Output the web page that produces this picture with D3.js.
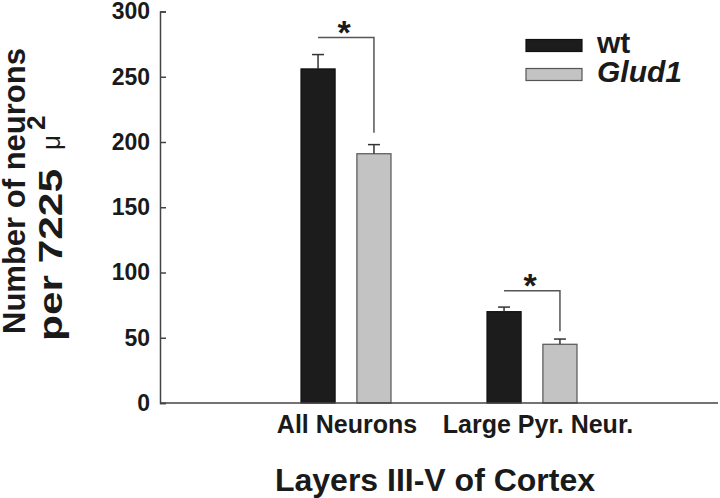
<!DOCTYPE html>
<html>
<head>
<meta charset="utf-8">
<script src="https://cdn.jsdelivr.net/npm/d3@7"></script>
<style>
  body { margin: 0; background: #fff; }
  text { font-family: Arial, "Liberation Sans", Helvetica, sans-serif; fill: #1a1a1a; }
</style>
</head>
<body>
<svg id="chart" width="720" height="498"></svg>
<script>
// categories on the x axis
var categories = ["All Neurons", "Large Pyr. Neur."]
// series names
var series = ["wt", "Glud1"]
// mean values per category, one array per series
var wtValues = [256, 70]
var glud1Values = [191, 45]
// upper error bars (sem)
var wtErrors = [11, 3.5]
var glud1Errors = [7, 4]
// significance brackets: bracket level and where the right leg stops
var sigLevel = [280, 86]
var sigDrop = [207, 55]
// y ticks
var yTicks = [0, 50, 100, 150, 200, 250, 300]

var svg = d3.select("#chart")

var colors = { wt: "#1c1c1c", Glud1: "#c3c3c3" }
var strokes = { wt: "#111", Glud1: "#555" }

// category positions: 1 and 2 on a 0..3 axis
var x = d3.scaleLinear().domain([0, 3]).range([160, 718])
var inner = d3.scaleBand().domain(series).range([-45, 45]).paddingInner(0.39)
var y = d3.scaleLinear().domain([0, 300]).range([403, 11.5])

// rows of data built from the arrays
var rows = []
categories.forEach(function (c, i) {
  rows.push({ cat: i, s: "wt", v: wtValues[i], e: wtErrors[i] })
  rows.push({ cat: i, s: "Glud1", v: glud1Values[i], e: glud1Errors[i] })
})

// y axis, ticks point inward
var yAxis = d3.axisLeft(y).tickValues(yTicks).tickSize(-6).tickPadding(10)
var gy = svg.append("g").attr("transform", "translate(" + x(0) + ",0)").call(yAxis)
gy.select(".domain").attr("stroke", "#444").attr("stroke-width", 1.5)
gy.selectAll(".tick line").attr("stroke", "#444").attr("stroke-width", 1.5)
gy.selectAll(".tick text")
  .attr("font-family", "Arial, 'Liberation Sans', sans-serif")
  .attr("font-size", 23).attr("font-weight", "bold").attr("fill", "#1a1a1a")

// bars
svg.append("g").selectAll("rect").data(rows).join("rect")
  .attr("x", d => x(d.cat + 1) + inner(d.s))
  .attr("y", d => y(d.v))
  .attr("width", inner.bandwidth())
  .attr("height", d => y(0) - y(d.v))
  .attr("fill", d => colors[d.s])
  .attr("stroke", d => strokes[d.s])
  .attr("stroke-width", 1.2)

// error bars (upper only)
var eb = svg.append("g").attr("stroke", "#333").attr("stroke-width", 1.5)
rows.forEach(function (d) {
  var cx = x(d.cat + 1) + inner(d.s) + inner.bandwidth() / 2
  eb.append("line").attr("x1", cx).attr("x2", cx).attr("y1", y(d.v)).attr("y2", y(d.v + d.e))
  eb.append("line").attr("x1", cx - 6).attr("x2", cx + 6).attr("y1", y(d.v + d.e)).attr("y2", y(d.v + d.e))
})

// x axis baseline
svg.append("line")
  .attr("x1", x(0)).attr("x2", x(3)).attr("y1", y(0)).attr("y2", y(0))
  .attr("stroke", "#444").attr("stroke-width", 1.5)

// significance brackets
categories.forEach(function (c, i) {
  var x1 = x(i + 1) + inner("wt") + inner.bandwidth() / 2
  var x2 = x(i + 1) + inner("Glud1") + inner.bandwidth() / 2
  svg.append("path")
    .attr("d", "M" + x1 + "," + y(sigLevel[i]) + "H" + x2 + "V" + y(sigDrop[i]))
    .attr("fill", "none").attr("stroke", "#555").attr("stroke-width", 1.5)
  svg.append("text")
    .attr("x", (x1 + x2) / 2 - 2).attr("y", y(sigLevel[i]) + 6)
    .attr("text-anchor", "middle").attr("font-size", 34).attr("font-weight", "bold")
    .text("*")
})

// category labels (second one sits a bit right of its group)
var labelShift = [1, 6]
svg.append("g").selectAll("text").data(categories).join("text")
  .attr("x", (d, i) => x(i + 1) + labelShift[i])
  .attr("y", 433)
  .attr("text-anchor", "middle")
  .attr("font-size", 25).attr("font-weight", "bold")
  .text(d => d)

// x title
svg.append("text")
  .attr("x", 435).attr("y", 491)
  .attr("text-anchor", "middle")
  .attr("font-size", 32).attr("font-weight", "bold")
  .text("Layers III-V of Cortex")

// y title, two lines (rotated, so x here runs up the page)
var yt = svg.append("g").attr("transform", "rotate(-90)")
yt.append("text")
  .attr("x", -191).attr("y", 25)
  .attr("text-anchor", "middle")
  .attr("font-size", 31).attr("font-weight", "bold")
  .text("Number of neurons")
yt.append("text")
  .attr("x", -341).attr("y", 62)
  .attr("font-size", 33).attr("font-weight", "bold")
  .attr("textLength", 172).attr("lengthAdjust", "spacingAndGlyphs")
  .text("per 7225")
yt.append("text")
  .attr("x", -150).attr("y", 60)
  .attr("font-size", 26).attr("font-family", "'DejaVu Sans', sans-serif")
  .text("\u03bc")
yt.append("text")
  .attr("x", -130).attr("y", 45)
  .attr("font-size", 26).attr("font-weight", "bold")
  .text("2")

// legend
var lg = svg.append("g")
series.forEach(function (s, i) {
  lg.append("rect")
    .attr("x", 526).attr("y", 39.5 + i * 29)
    .attr("width", 56).attr("height", 12)
    .attr("fill", colors[s]).attr("stroke", strokes[s]).attr("stroke-width", 1.2)
  lg.append("text")
    .attr("x", 597).attr("y", 53 + i * 29)
    .attr("font-size", 30).attr("font-weight", "bold")
    .attr("font-style", s == "Glud1" ? "italic" : "normal")
    .text(s)
})
</script>
</body>
</html>
